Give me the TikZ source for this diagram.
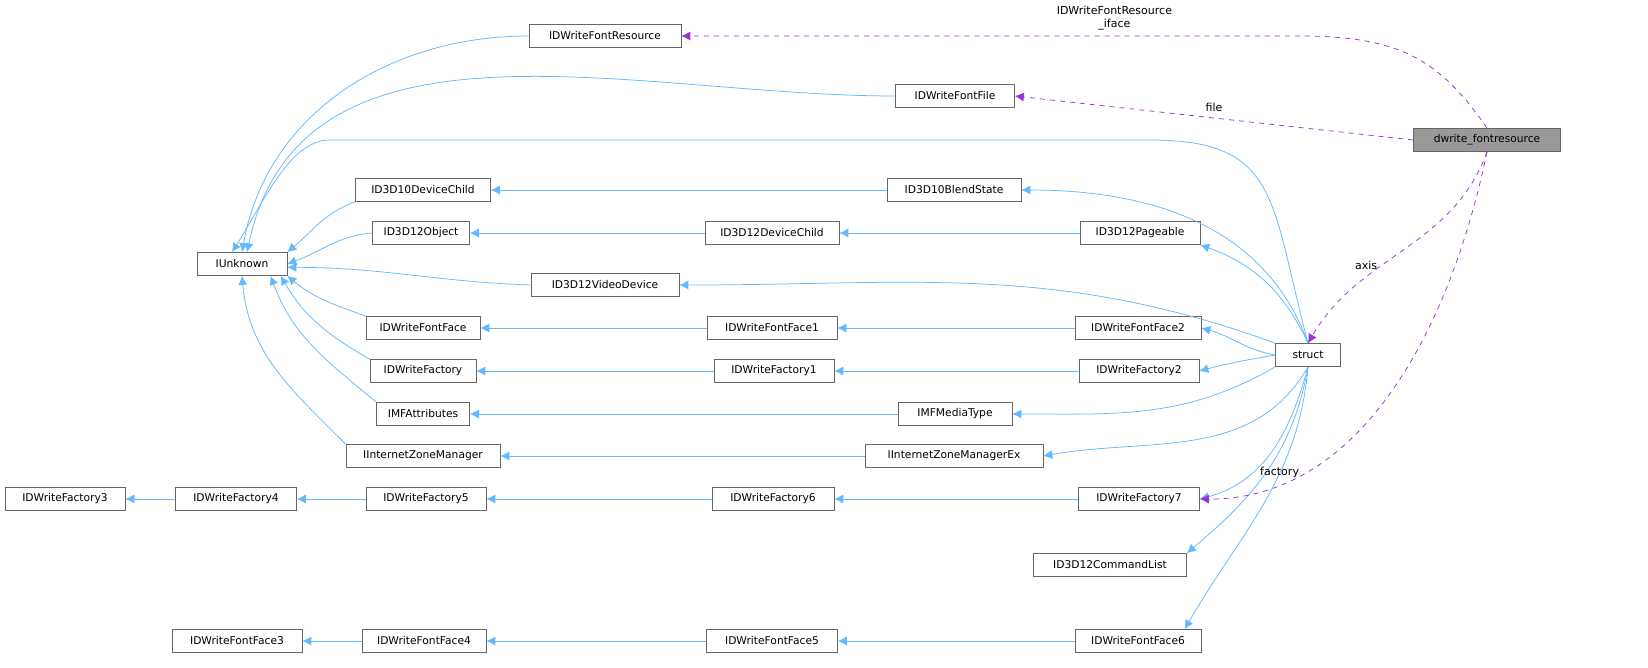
\documentclass[tikz,border=0pt]{standalone}
\usepackage{fontspec}
\setmainfont{DejaVu Sans}
\usetikzlibrary{arrows.meta}
\definecolor{inhblue}{HTML}{63B8FF}
\definecolor{usepurple}{HTML}{9A32CD}
\definecolor{boxgray}{HTML}{666666}
\newlength\px
\setlength\px{0.02105cm}
\tikzset{
  cls/.style={draw=boxgray,rectangle,inner sep=0pt,minimum height=23\px,font=\fontsize{6.4}{7.5}\selectfont,text=black},
  inh/.style={draw=inhblue,line width=0.45pt,-{Latex[length=5.4pt,width=5.4pt]}},
  use/.style={draw=usepurple,line width=0.45pt,dashed,-{Latex[length=5.4pt,width=5.4pt]}},
  lbl/.style={font=\fontsize{6.6}{7.5}\selectfont,align=center}
}
\begin{document}
\begin{tikzpicture}[x=0.02105cm,y=-0.02105cm]
	\useasboundingbox (0,0) rectangle (1648,667);

	% classes
	\node[cls,minimum width=152\px] (res) at (605,36) {IDWriteFontResource};
	\node[cls,minimum width=119\px] (ffile) at (955,96) {IDWriteFontFile};
	\node[cls,minimum width=147\px,fill=gray!80] (dwr) at (1487,140) {dwrite\_fontresource};
	\node[cls,minimum width=135\px] (d10child) at (423,190) {ID3D10DeviceChild};
	\node[cls,minimum width=134\px] (blend) at (954,190) {ID3D10BlendState};
	\node[cls,minimum width=97\px] (d12obj) at (421,233) {ID3D12Object};
	\node[cls,minimum width=134\px] (d12child) at (772,233) {ID3D12DeviceChild};
	\node[cls,minimum width=120\px] (pageable) at (1140,233) {ID3D12Pageable};
	\node[cls,minimum width=90\px] (iu) at (242,264) {IUnknown};
	\node[cls,minimum width=148\px] (video) at (605,285) {ID3D12VideoDevice};
	\node[cls,minimum width=114\px] (face) at (423,328) {IDWriteFontFace};
	\node[cls,minimum width=130\px] (face1) at (772,328) {IDWriteFontFace1};
	\node[cls,minimum width=126\px] (face2) at (1138,328) {IDWriteFontFace2};
	\node[cls,minimum width=65\px] (st) at (1308,355) {struct};
	\node[cls,minimum width=106\px] (fac) at (423,371) {IDWriteFactory};
	\node[cls,minimum width=120\px] (fac1) at (774,371) {IDWriteFactory1};
	\node[cls,minimum width=120\px] (fac2) at (1139,371) {IDWriteFactory2};
	\node[cls,minimum width=93\px] (mfattr) at (423,414) {IMFAttributes};
	\node[cls,minimum width=114\px] (mftype) at (955,414) {IMFMediaType};
	\node[cls,minimum width=154\px] (izm) at (423,456) {IInternetZoneManager};
	\node[cls,minimum width=178\px] (izmex) at (954,456) {IInternetZoneManagerEx};
	\node[cls,minimum width=120\px] (fac3) at (65,499) {IDWriteFactory3};
	\node[cls,minimum width=121\px] (fac4) at (236,499) {IDWriteFactory4};
	\node[cls,minimum width=120\px] (fac5) at (426,499) {IDWriteFactory5};
	\node[cls,minimum width=122\px] (fac6) at (773,499) {IDWriteFactory6};
	\node[cls,minimum width=121\px] (fac7) at (1139,499) {IDWriteFactory7};
	\node[cls,minimum width=153\px] (cmdlist) at (1110,565) {ID3D12CommandList};
	\node[cls,minimum width=130\px] (face3) at (237,641) {IDWriteFontFace3};
	\node[cls,minimum width=124\px] (face4) at (424,641) {IDWriteFontFace4};
	\node[cls,minimum width=131\px] (face5) at (772,641) {IDWriteFontFace5};
	\node[cls,minimum width=126\px] (face6) at (1138,641) {IDWriteFontFace6};

	% inheritance to IUnknown
	\draw[inh] (res.west) to[out=180,in=80] (iu.north);
	\draw[inh] (ffile.west) to[out=180,in=78] ([xshift=3pt]iu.north);
	\draw[inh] (d10child.south west) to[out=200,in=40] (iu.north east);
	\draw[inh] (d12obj.west) to[out=185,in=20] (iu.east);
	\draw[inh] (video.west) to[out=178,in=0] ([yshift=-2pt]iu.east);
	\draw[inh] (face.north west) to[out=160,in=-40] (iu.south east);
	\draw[inh] (fac.north west) to[out=150,in=-60] ([xshift=-4pt]iu.south east);
	\draw[inh] (mfattr.north west) to[out=140,in=-70] ([xshift=-10pt]iu.south east);
	\draw[inh] (izm.north west) to[out=135,in=-85] (iu.south);

	% chains
	\draw[inh] (blend) -- (d10child);
	\draw[inh] (d12child) -- (d12obj);
	\draw[inh] (pageable) -- (d12child);
	\draw[inh] (face1) -- (face);
	\draw[inh] (face2) -- (face1);
	\draw[inh] (fac1) -- (fac);
	\draw[inh] (fac2) -- (fac1);
	\draw[inh] (mftype) -- (mfattr);
	\draw[inh] (izmex) -- (izm);
	\draw[inh] (fac4) -- (fac3);
	\draw[inh] (fac5) -- (fac4);
	\draw[inh] (fac6) -- (fac5);
	\draw[inh] (fac7) -- (fac6);
	\draw[inh] (face4) -- (face3);
	\draw[inh] (face5) -- (face4);
	\draw[inh] (face6) -- (face5);

	% struct bases
	\draw[inh] (st.north) .. controls (1270,200) and (1280,140) .. (1150,140) -- (330,140) .. controls (290,140) and (265,200) .. ([xshift=-6pt]iu.north);
	\draw[inh] (st.north) to[out=110,in=0] (blend.east);
	\draw[inh] (st.north) to[out=115,in=-20] (pageable.south east);
	\draw[inh] (st.north west) to[out=160,in=0] (video.east);
	\draw[inh] (st.west) to[out=170,in=-15] (face2.east);
	\draw[inh] (st.west) to[out=190,in=15] (fac2.east);
	\draw[inh] (st.south west) to[out=210,in=0] (mftype.east);
	\draw[inh] (st.south) to[out=240,in=10] (izmex.east);
	\draw[inh] (st.south) to[out=255,in=15] (fac7.east);
	\draw[inh] (st.south) to[out=260,in=40] (cmdlist.north east);
	\draw[inh] (st.south) to[out=265,in=60] ([xshift=-10pt]face6.north east);

	% member usage
	\draw[use] (dwr.north) .. controls (1440,60) and (1400,36) .. (1300,36) -- (res.east)
		node[lbl,pos=0.3,above] {IDWriteFontResource\\\_iface};
	\draw[use] (dwr.west) -- (ffile.east) node[lbl,midway,above] {file};
	\draw[use] (dwr.south) to[out=250,in=60] node[lbl,pos=0.6,left] {axis} (st.north);
	\draw[use] (dwr.south) .. controls (1450,330) and (1360,500) .. (fac7.east)
		node[lbl,pos=0.82,above] {factory};
\end{tikzpicture}
\end{document}
